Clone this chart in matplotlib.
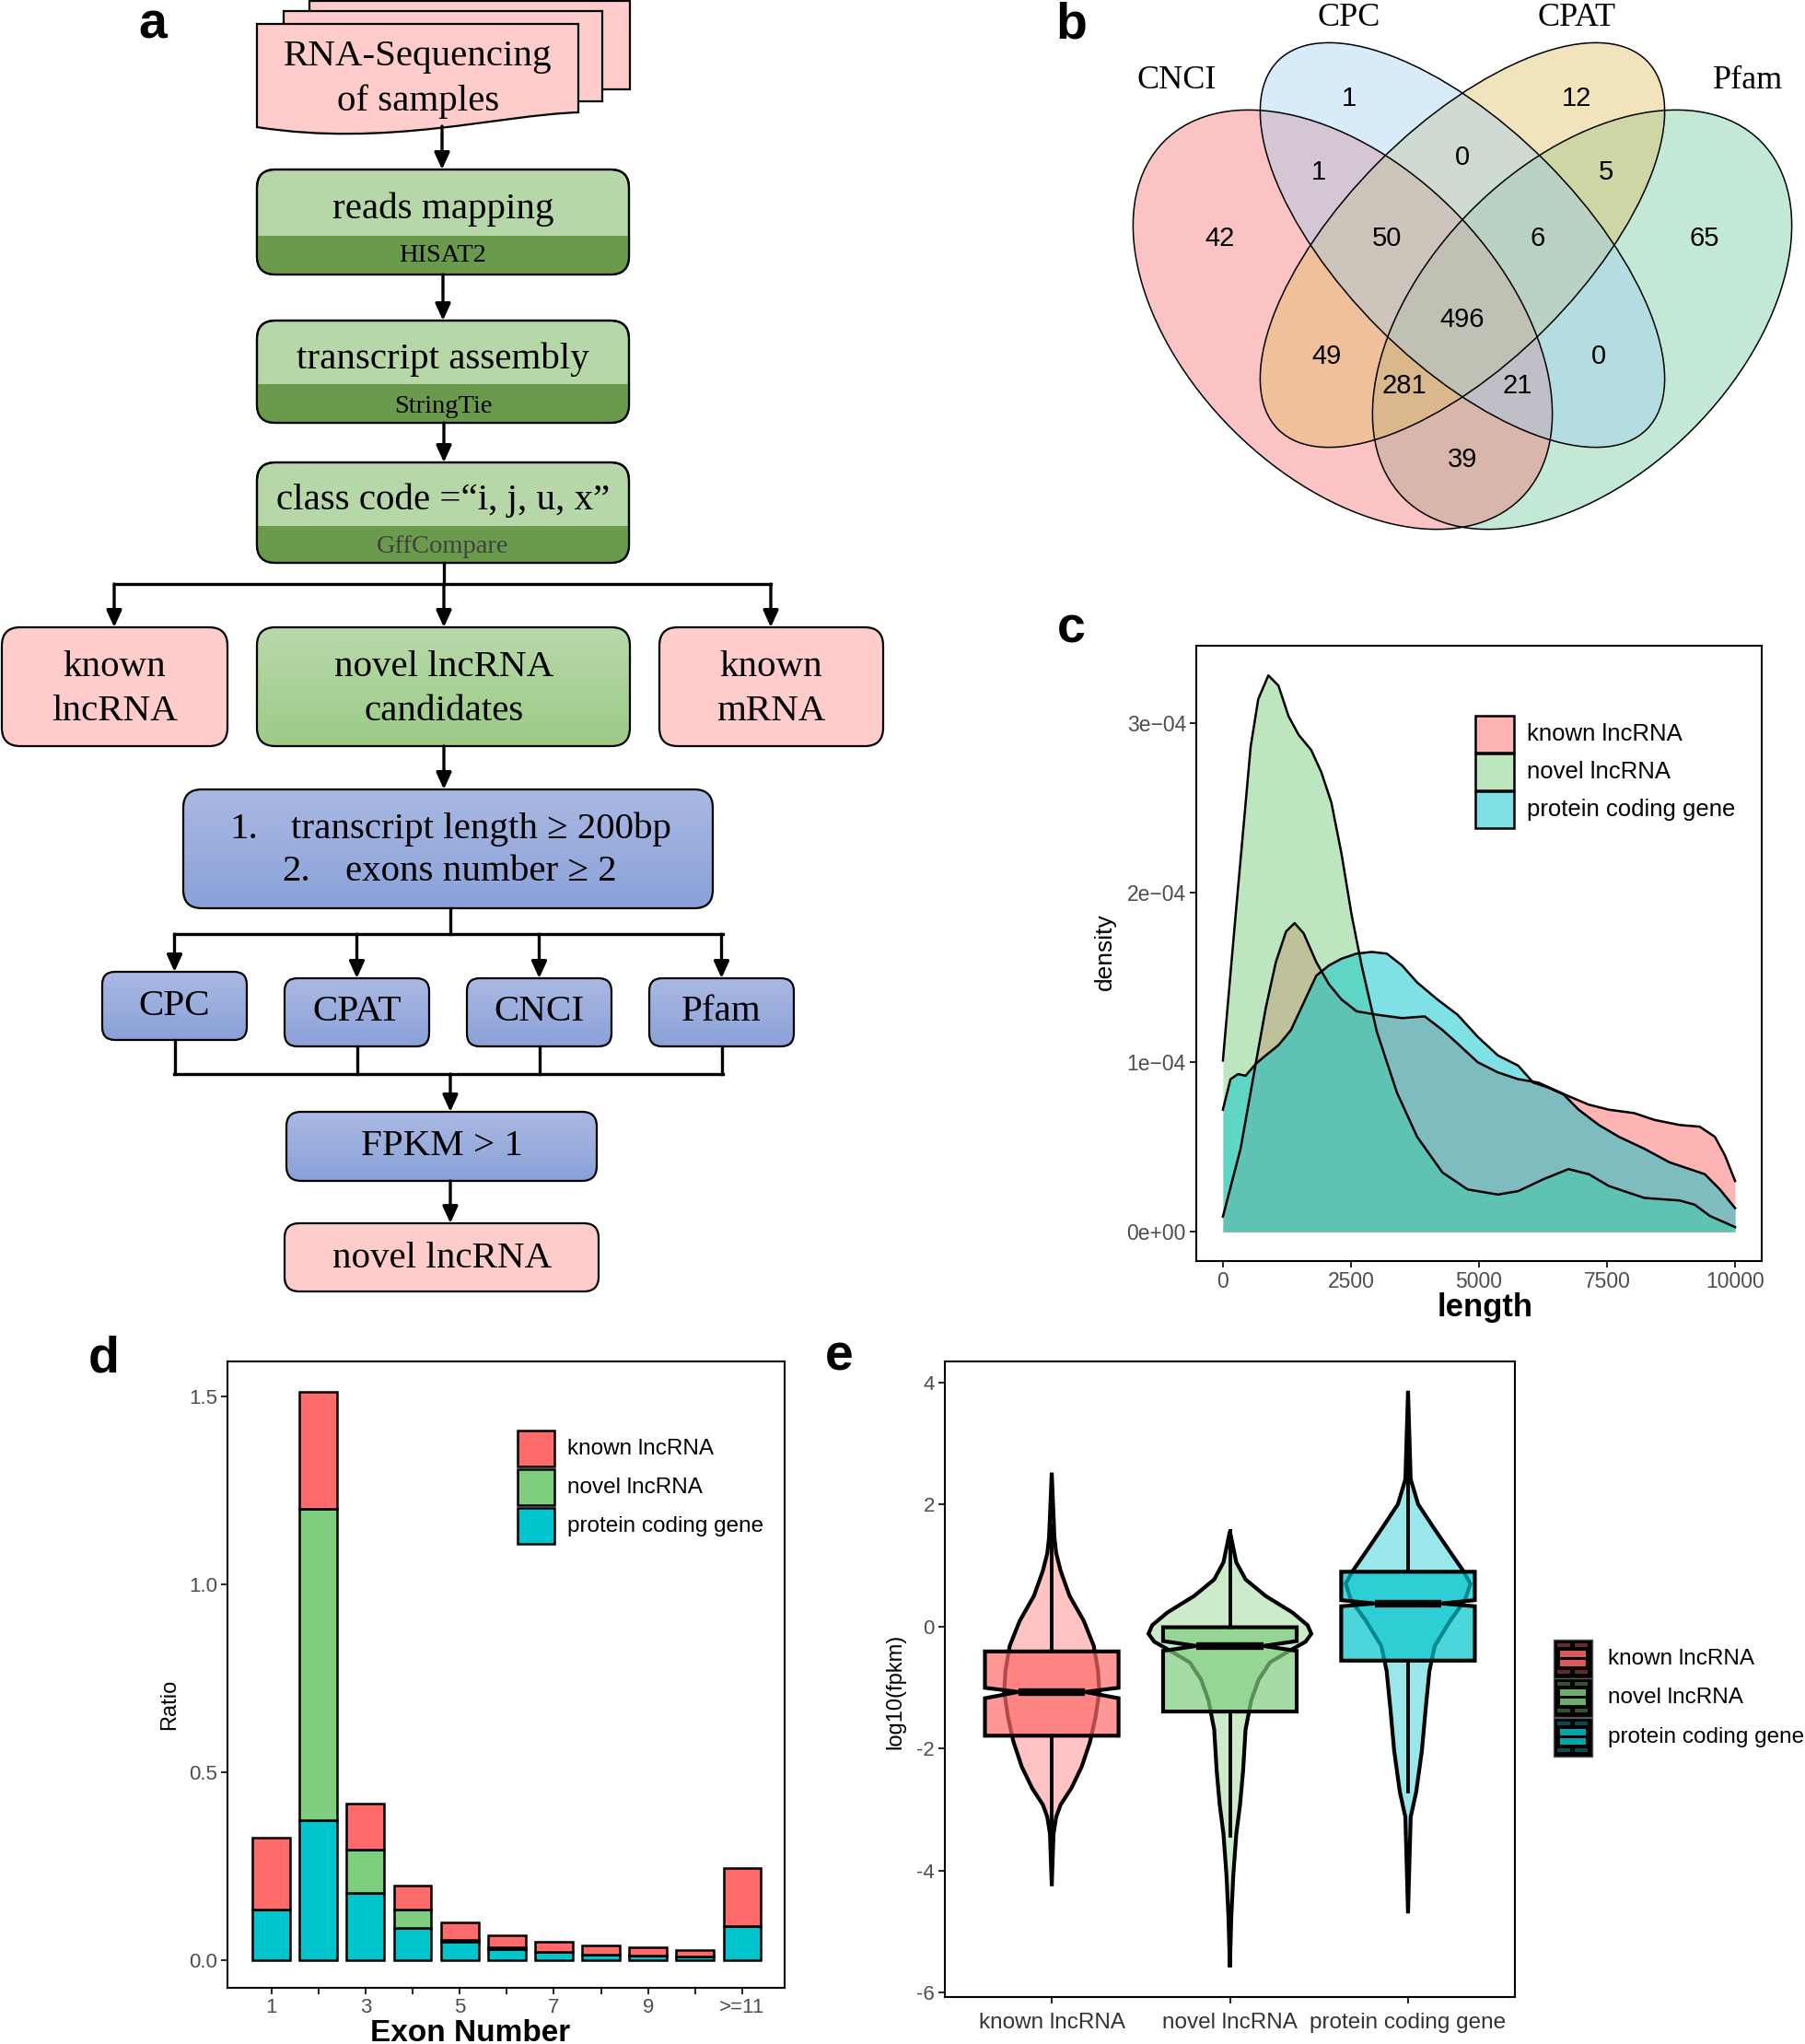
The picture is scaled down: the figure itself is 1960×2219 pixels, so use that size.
import numpy as np
import matplotlib
matplotlib.use("Agg")
import matplotlib.pyplot as plt
from matplotlib.patches import FancyBboxPatch, Rectangle, Ellipse, PathPatch
from matplotlib.path import Path
from matplotlib.colors import to_rgba

W, H = 1960, 2219
SERIF = ["Liberation Serif", "DejaVu Serif"]
SANS = ["Liberation Sans", "DejaVu Sans"]
plt.rcParams["font.family"] = SANS

RED, GREEN, CYAN = "#FF6B6B", "#7FCE7F", "#00C5CD"
groups = ["known lncRNA", "novel lncRNA", "protein coding gene"]

# ---- b: venn of coding-potential tools ----
venn_sets = ["CNCI", "CPC", "CPAT", "Pfam"]
venn_regions = ["CPC", "CPAT", "CPC&CPAT", "CNCI&CPC", "CPAT&Pfam", "CNCI",
                "CNCI&CPC&CPAT", "CPC&CPAT&Pfam", "Pfam", "all", "CNCI&CPAT",
                "CPC&Pfam", "CNCI&CPAT&Pfam", "CNCI&CPC&Pfam", "CNCI&Pfam"]
venn_counts = [1, 12, 0, 1, 5, 42, 50, 6, 65, 496, 49, 0, 281, 21, 39]

# ---- c: transcript length density (values in 1e-4) ----
c_known_len = [0, 345, 640, 837, 1034, 1232, 1399, 1576, 1823, 2069, 2315, 2611, 3005, 3498,
               3941, 4286, 4581, 4975, 5369, 5764, 6158, 6453, 6749, 7143, 7537, 8030, 8424,
               8916, 9310, 9606, 9803, 10000]
c_known_dens = [0.09, 0.49, 0.99, 1.32, 1.59, 1.77, 1.82, 1.76, 1.59, 1.46, 1.37, 1.30, 1.28, 1.26,
                1.27, 1.19, 1.11, 1.00, 0.94, 0.90, 0.88, 0.84, 0.80, 0.75, 0.72, 0.70, 0.66,
                0.63, 0.62, 0.56, 0.45, 0.30]
c_novel_len = [0, 246, 394, 542, 690, 887, 1084, 1281, 1478, 1724, 1921, 2118, 2315, 2512, 2709,
               3005, 3399, 3793, 4286, 4778, 5369, 5764, 6256, 6749, 7143, 7537, 8227, 8916,
               9212, 9507, 10000]
c_novel_dens = [1.01, 1.86, 2.36, 2.86, 3.14, 3.28, 3.22, 3.04, 2.93, 2.84, 2.71, 2.53, 2.23, 1.87,
                1.57, 1.18, 0.82, 0.56, 0.35, 0.25, 0.22, 0.24, 0.31, 0.37, 0.34, 0.27, 0.20,
                0.185, 0.16, 0.094, 0.028]
c_protein_len = [0, 148, 296, 443, 640, 837, 1084, 1330, 1576, 1823, 2069, 2315, 2611, 2906, 3202,
                 3498, 3793, 4187, 4581, 4975, 5369, 5764, 6059, 6355, 6650, 6946, 7340, 7734,
                 8227, 8719, 9113, 9409, 9704, 10000]
c_protein_dens = [0.72, 0.90, 0.93, 0.92, 0.99, 1.04, 1.10, 1.19, 1.35, 1.51, 1.57, 1.61, 1.64, 1.65,
                  1.64, 1.57, 1.47, 1.37, 1.28, 1.15, 1.04, 0.98, 0.88, 0.85, 0.81, 0.72, 0.63,
                  0.56, 0.49, 0.41, 0.37, 0.34, 0.25, 0.14]

# ---- d: exon number ratio ----
exon_number = ["1", "2", "3", "4", "5", "6", "7", "8", "9", "10", ">=11"]
d_protein = [0.136, 0.372, 0.179, 0.087, 0.048, 0.030, 0.021, 0.0155, 0.0114, 0.009, 0.091]
d_novel = [0.0, 0.828, 0.114, 0.047, 0.006, 0.004, 0.0, 0.0, 0.0, 0.0, 0.0]
d_known = [0.191, 0.313, 0.123, 0.064, 0.046, 0.032, 0.029, 0.0235, 0.022, 0.0187, 0.155]

# ---- e: log10(fpkm) violins (half widths) + notched boxes ----
e_known_y = [2.52, 1.46, 1.2, 0.91, 0.50, 0.09, -0.32, -0.73, -1.07, -1.48, -1.89, -2.30, -2.65,
             -2.92, -3.12, -3.40, -4.25]
e_known_hw = [0, 0.015, 0.025, 0.05, 0.10, 0.18, 0.236, 0.26, 0.267, 0.246, 0.215, 0.168, 0.11,
              0.05, 0.025, 0.01, 0]
e_novel_y = [1.56, 1.05, 0.77, 0.50, 0.23, 0.02, -0.12, -0.25, -0.39, -0.59, -0.87, -1.21, -1.69,
             -2.37, -2.92, -3.40, -4.08, -4.76, -5.58]
e_novel_hw = [0, 0.036, 0.088, 0.20, 0.35, 0.436, 0.457, 0.425, 0.34, 0.225, 0.162, 0.12, 0.088,
              0.074, 0.057, 0.036, 0.019, 0.008, 0]
e_protein_y = [3.86, 2.41, 2.0, 1.59, 1.18, 0.91, 0.70, 0.43, 0.09, -0.32, -0.73, -1.35, -2.03,
               -2.71, -3.12, -4.70]
e_protein_hw = [0, 0.015, 0.057, 0.15, 0.246, 0.31, 0.35, 0.32, 0.236, 0.15, 0.12, 0.099, 0.078,
                0.046, 0.015, 0]
e_q1 = [-1.79, -1.394, -0.56]
e_med = [-1.073, -0.32, 0.376]
e_q3 = [-0.41, -0.014, 0.895]
e_notch_lo = [-1.176, -0.40, 0.33]
e_notch_hi = [-1.005, -0.24, 0.43]
e_whisk_lo = [-3.85, -3.43, -2.71]
e_whisk_hi = [1.66, 1.56, 3.08]

fig = plt.figure(figsize=(W / 100, H / 100), dpi=100)
ov = fig.add_axes([0, 0, 1, 1], zorder=10)
ov.set_xlim(0, W)
ov.set_ylim(H, 0)
ov.axis("off")


def px_rect(x0, y0, x1, y1):
    return [x0 / W, 1 - y1 / H, (x1 - x0) / W, (y1 - y0) / H]


# ================= a: flowchart =================
PINK = "#FFCCCC"


def rbox(x0, y0, x1, y1, fc, r=20, z=3):
    p = FancyBboxPatch((x0, y0), x1 - x0, y1 - y0, boxstyle=f"round,pad=0,rounding_size={r}",
                       fc=fc, ec="black", lw=1.6, zorder=z)
    ov.add_patch(p)
    return p


def grad_box(x0, y0, x1, y1, top, bottom, r=20):
    p = rbox(x0, y0, x1, y1, "none", r)
    t = np.linspace(0, 1, 60)[:, None, None]
    img = (1 - t) * np.array(to_rgba(top)) + t * np.array(to_rgba(bottom))
    im = ov.imshow(img, extent=(x0, x1, y1, y0), aspect="auto", zorder=2, interpolation="bilinear")
    im.set_clip_path(p)


def two_tone(x0, y0, x1, y1, split, r=20):
    p = rbox(x0, y0, x1, y1, "#B6D7A8", r, z=2)
    low = Rectangle((x0, split), x1 - x0, y1 - split, fc="#6A9A4B", ec="none", zorder=2.5)
    ov.add_patch(low)
    low.set_clip_path(p)
    rbox(x0, y0, x1, y1, "none", r, z=3)


def ftext(x, y, s, size=29.5, color="black", ha="center"):
    ov.text(x, y, s, ha=ha, va="center", fontsize=size, family=SERIF, color=color, zorder=6)


def seg(x0, y0, x1, y1):
    ov.plot([x0, x1], [y0, y1], color="black", lw=2.4, zorder=4, solid_capstyle="projecting")


def arrow(x, y0, y1):
    ov.annotate("", xy=(x, y1), xytext=(x, y0), zorder=4,
                arrowprops=dict(arrowstyle="-|>,head_length=0.55,head_width=0.25",
                                mutation_scale=20, lw=2.4, color="black", shrinkA=0, shrinkB=0))


# stacked document
ov.add_patch(Rectangle((336, 1), 348, 96, fc=PINK, ec="black", lw=1.6, zorder=2))
ov.add_patch(Rectangle((308, 12), 346, 98, fc=PINK, ec="black", lw=1.6, zorder=2.2))
doc = Path([(279, 26), (628, 26), (628, 122), (540, 125), (420, 160), (279, 138), (279, 26)],
           [Path.MOVETO, Path.LINETO, Path.LINETO, Path.CURVE4, Path.CURVE4, Path.CURVE4,
            Path.CLOSEPOLY])
ov.add_patch(PathPatch(doc, fc=PINK, ec="black", lw=1.6, zorder=2.4))
ftext(454, 62, "RNA-Sequencing")
ftext(454, 110, "of samples")

two_tone(279, 184, 683, 298, 256)
ftext(481, 227, "reads mapping")
ftext(481, 278, "HISAT2", 20.5)
two_tone(279, 348, 683, 459, 417)
ftext(481, 390, "transcript assembly")
ftext(481, 441, "StringTie", 20.5)
two_tone(279, 502, 683, 611, 571)
ftext(481, 543, "class code =\u201ci, j, u, x\u201d")
ftext(481, 593, "GffCompare", 20.5, color="#404040")

rbox(2, 681, 247, 810, PINK)
ftext(124, 725, "known")
ftext(124, 772, "lncRNA")
grad_box(279, 681, 684, 810, "#B9D9AB", "#9CCB86")
ftext(482, 725, "novel lncRNA")
ftext(482, 772, "candidates")
rbox(716, 681, 959, 810, PINK)
ftext(837, 725, "known")
ftext(837, 772, "mRNA")

grad_box(199, 857, 774, 986, "#AAB9E3", "#8AA1D8")
ftext(249, 900, "1.", ha="left")
ftext(316, 900, "transcript length \u2265 200bp", ha="left")
ftext(306, 947, "2.", ha="left")
ftext(375, 947, "exons number \u2265 2", ha="left")

tools = ["CPC", "CPAT", "CNCI", "Pfam"]
tool_x = [(111, 268), (309, 466), (507, 664), (705, 862)]
tool_y = [(1055, 1129), (1062, 1136), (1062, 1136), (1062, 1136)]
for name, (x0, x1), (y0, y1) in zip(tools, tool_x, tool_y):
    grad_box(x0, y0, x1, y1, "#AAB9E3", "#8AA1D8", r=14)
    ftext((x0 + x1) / 2, (y0 + y1) / 2, name)

grad_box(311, 1207, 648, 1282, "#AAB9E3", "#8AA1D8", r=16)
ftext(480, 1245, "FPKM > 1")
rbox(309, 1328, 650, 1402, PINK, r=16)
ftext(480, 1367, "novel lncRNA")

arrow(480, 137, 184)
arrow(481, 298, 348)
arrow(482, 459, 502)
seg(482, 611, 482, 634)
seg(124, 634, 837, 634)
for xx in [124, 482, 837]:
    arrow(xx, 634, 681)
arrow(482, 810, 857)
seg(489, 986, 489, 1014)
seg(189, 1014, 785, 1014)
for (x0, x1), (y0, y1) in zip(tool_x, tool_y):
    xm = (x0 + x1) / 2
    arrow(xm, 1014, y0)
    seg(xm, y1, xm, 1166)
seg(189, 1166, 785, 1166)
arrow(489, 1166, 1207)
arrow(489, 1282, 1328)

# ================= b: venn =================
venn_geom = {"CNCI": (1458, 347, 548, 338, 45), "CPC": (1588, 266, 566, 256, 45),
             "CPAT": (1588, 266, 566, 256, -45), "Pfam": (1718, 347, 548, 338, -45)}
venn_colors = {"CNCI": "#F76B6B", "CPC": "#9BCDF2", "CPAT": "#DEBC5C", "Pfam": "#6CC699"}
for name in ["Pfam", "CNCI", "CPAT", "CPC"]:
    cx, cy, w, h, ang = venn_geom[name]
    ov.add_patch(Ellipse((cx, cy), w, h, angle=ang, fc=venn_colors[name], alpha=0.4, ec="none", zorder=2))
for name in venn_sets:
    cx, cy, w, h, ang = venn_geom[name]
    ov.add_patch(Ellipse((cx, cy), w, h, angle=ang, fill=False, ec="black", lw=1.1, zorder=3))

venn_label_xy = [(1465, 107), (1712, 107), (1588, 171), (1432, 187), (1744, 187), (1325, 259),
                 (1506, 259), (1670, 259), (1851, 259), (1588, 347), (1440, 387), (1736, 387),
                 (1525, 419), (1648, 419), (1588, 499)]
for (x, y), n in zip(venn_label_xy, venn_counts):
    ov.text(x, y, str(n), ha="center", va="center", fontsize=21, zorder=5)
for name, (x, y) in zip(venn_sets, [(1278, 88), (1465, 19), (1712, 19), (1898, 88)]):
    ftext(x, y, name, 26)


def style(ax, labelsize=16):
    for s in ax.spines.values():
        s.set_linewidth(1.5)
        s.set_color("black")
    ax.tick_params(direction="out", length=5, width=1.2, colors="black",
                   labelcolor="#4D4D4D", labelsize=labelsize, pad=3)


# ================= c: density =================
axc = fig.add_axes(px_rect(1299, 701, 1913, 1369))
for xs, ys, col in [(c_known_len, c_known_dens, RED), (c_novel_len, c_novel_dens, GREEN),
                    (c_protein_len, c_protein_dens, CYAN)]:
    ys = np.array(ys) * 1e-4
    axc.fill_between(xs, 0, ys, color=col, alpha=0.5, lw=0)
    axc.plot(xs, ys, color="black", lw=1.8)
axc.set_xlim(-520, 10520)
axc.set_ylim(-0.172e-4, 3.455e-4)
axc.set_xticks([0, 2500, 5000, 7500, 10000], ["0", "2500", "5000", "7500", "10000"])
axc.set_yticks([0, 1e-4, 2e-4, 3e-4], ["0e+00", "1e\u221204", "2e\u221204", "3e\u221204"])
style(axc, 16.5)
axc.set_xlabel("length", fontsize=25, fontweight="bold", va="center")
axc.xaxis.set_label_coords(0.511, -0.075)
axc.set_ylabel("density", fontsize=19, va="center")
axc.yaxis.set_label_coords(-0.161, 0.503)

# ================= d: exon number =================
axd = fig.add_axes(px_rect(247, 1478, 852, 2158))
pos = np.arange(1, len(exon_number) + 1)
prot = np.array(d_protein)
nov = np.array(d_novel)
axd.bar(pos, prot, width=0.8, color=CYAN, edgecolor="black", lw=1.8)
axd.bar(pos, nov, width=0.8, bottom=prot, color=GREEN, edgecolor="black", lw=1.8)
axd.bar(pos, d_known, width=0.8, bottom=prot + nov, color=RED, edgecolor="black", lw=1.8)
axd.set_xlim(0.07, 11.9)
axd.set_ylim(-0.0735, 1.593)
axd.set_xticks(pos, [lab if i % 2 == 0 else "" for i, lab in enumerate(exon_number)])
axd.set_yticks([0, 0.5, 1.0, 1.5], ["0.0", "0.5", "1.0", "1.5"])
style(axd, 16)
axd.set_xlabel("Exon Number", fontsize=24, fontweight="bold", va="baseline")
axd.xaxis.set_label_coords(0.435, -0.085)
axd.set_ylabel("Ratio", fontsize=17, va="center")
axd.yaxis.set_label_coords(-0.104, 0.453)

# ================= e: violins =================
axe = fig.add_axes(px_rect(1026, 1478, 1645, 2168))
violins = [(e_known_y, e_known_hw, RED), (e_novel_y, e_novel_hw, GREEN),
           (e_protein_y, e_protein_hw, CYAN)]
for i, (ys, hw, col) in enumerate(violins):
    c = i + 1
    ys, hw = np.array(ys), np.array(hw)
    axe.fill(np.concatenate([c + hw, (c - hw)[::-1]]), np.concatenate([ys, ys[::-1]]),
             fc=to_rgba(col, 0.4), ec="black", lw=3.0, zorder=2)
    axe.plot([c, c], [e_whisk_lo[i], e_q1[i]], color="black", lw=2.8, zorder=3)
    axe.plot([c, c], [e_q3[i], e_whisk_hi[i]], color="black", lw=2.8, zorder=3)
    w, n = 0.375, 0.1875
    bx = [c - w, c + w, c + w, c + n, c + w, c + w, c - w, c - w, c - n, c - w]
    by = [e_q3[i], e_q3[i], e_notch_hi[i], e_med[i], e_notch_lo[i], e_q1[i], e_q1[i],
          e_notch_lo[i], e_med[i], e_notch_hi[i]]
    axe.fill(bx, by, fc=to_rgba(col, 0.7), ec="black", lw=3.0, zorder=4)
    axe.plot([c - n, c + n], [e_med[i], e_med[i]], color="black", lw=6.0,
             solid_capstyle="butt", zorder=5)
axe.set_xlim(0.4, 3.6)
axe.set_ylim(-6.07, 4.34)
axe.set_xticks([1, 2, 3], groups)
axe.set_yticks([-6, -4, -2, 0, 2, 4], ["-6", "-4", "-2", "0", "2", "4"])
style(axe, 16)
axe.tick_params(axis="x", labelsize=17.5, labelcolor="#333333", pad=7)
axe.set_ylabel("log10(fpkm)", fontsize=17, va="center")
axe.yaxis.set_label_coords(-0.087, 0.48)

# ================= legends =================
for top, col, lab in zip([777, 818, 859], [RED, GREEN, CYAN], groups):
    ov.add_patch(Rectangle((1602, top), 42, 40, fc=to_rgba(col, 0.5), ec="black", lw=1.8, zorder=7))
    ov.text(1658, top + 20, lab, ha="left", va="center", fontsize=18.5, zorder=7)

for top, col, lab in zip([1553, 1595, 1637], [RED, GREEN, CYAN], groups):
    ov.add_patch(Rectangle((562, top), 40, 39, fc=col, ec="black", lw=1.8, zorder=7))
    ov.text(616, top + 20, lab, ha="left", va="center", fontsize=17.5, zorder=7)

for top, col, lab in zip([1780, 1822, 1865], [RED, GREEN, CYAN], groups):
    x0 = 1687
    light = to_rgba(col, 0.4)
    ov.add_patch(Rectangle((x0, top), 42, 42, fc="black", ec="#555555", lw=1.0, zorder=7))
    for yy in [top + 4, top + 33]:
        for xa, xb in [(x0 + 4, x0 + 18), (x0 + 23, x0 + 37)]:
            ov.add_patch(Rectangle((xa, yy), xb - xa, 4, fc=light, ec="none", zorder=8))
    for yy in [top + 12, top + 22]:
        ov.add_patch(Rectangle((x0 + 7, yy), 28, 7, fc=to_rgba(col, 0.85), ec="none", zorder=8))
    ov.text(1746, top + 21, lab, ha="left", va="center", fontsize=17.5, zorder=7)

# panel letters
for s, x, y in [("a", 166, 42), ("b", 1163, 42), ("c", 1163, 698), ("d", 113, 1490), ("e", 911, 1487)]:
    ov.text(x, y, s, ha="center", va="baseline", fontsize=40, fontweight="bold", zorder=9)

fig.savefig("out.png", dpi=100)
